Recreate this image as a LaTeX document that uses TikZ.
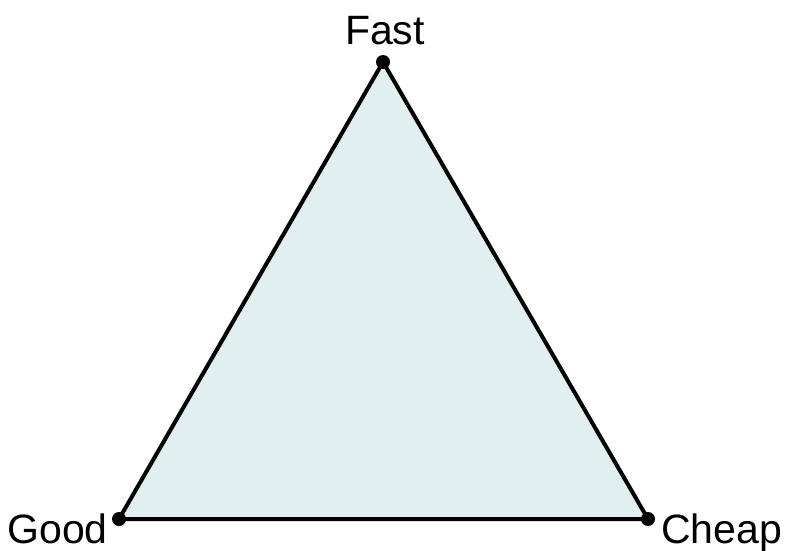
\documentclass[tikz,border=0pt]{standalone}
\usepackage{fontspec}
\setmainfont{Liberation Sans}
\usetikzlibrary{positioning}
\definecolor{triFill}{HTML}{E1EFF0}
\definecolor{triLine}{HTML}{000000}

\begin{document}
\begin{tikzpicture}[x=1pt,y=-1pt,
    corner/.style={font=\fontsize{41}{48}\selectfont,inner sep=0pt}]
  \useasboundingbox (0,0) rectangle (787,551);
  \coordinate (fast) at (383,62);
  \coordinate (good) at (119,519);
  \coordinate (cheap) at (648,519);
  \filldraw[fill=triFill,draw=triLine,line width=4pt,line join=miter]
    (fast) -- (good) -- (cheap) -- cycle;
  \foreach \v in {fast,good,cheap}
    \fill[triLine] (\v) circle[radius=7pt];
  \node[corner,anchor=base] (fastlbl) at (385,45) {Fast};
  \node[corner,anchor=base east] (goodlbl) at (108,543) {Good};
  \node[corner,anchor=base west] (cheaplbl) at (661,543) {Cheap};
\end{tikzpicture}
\end{document}
